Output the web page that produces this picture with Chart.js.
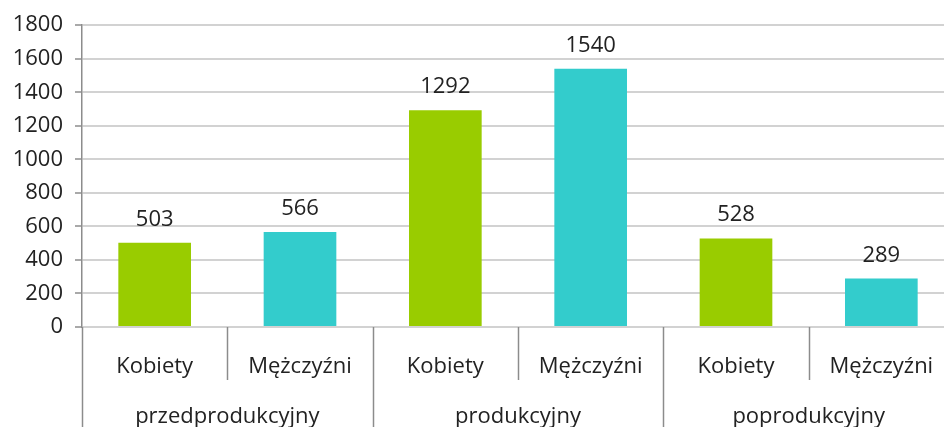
<!DOCTYPE html>
<html>
<head>
<meta charset="utf-8">
<script src="https://cdn.jsdelivr.net/npm/chart.js@4/dist/chart.umd.min.js"></script>
<style>
  html, body { margin: 0; padding: 0; background: #fff; overflow: hidden; }
  /* plot runs past the right edge of the window, as in the original */
  #wrap { width: 954px; height: 427px; }
</style>
</head>
<body>
<div id="wrap"><canvas id="chart"></canvas></div>
<script>
// data
const sexLabels = ['Kobiety', 'Mężczyźni', 'Kobiety', 'Mężczyźni', 'Kobiety', 'Mężczyźni'];
const ageGroups = ['przedprodukcyjny', 'produkcyjny', 'poprodukcyjny'];
const values = [503, 566, 1292, 1540, 528, 289];
const yTicks = [0, 200, 400, 600, 800, 1000, 1200, 1400, 1600, 1800];

const palette = ['#99CC00', '#33CCCC'];
const FONT = '"Open Sans", sans-serif';
const FSIZE = 22;

// value labels above bars
const valueLabels = {
    id: 'valueLabels',
    afterDatasetsDraw(chart) {
        const ctx = chart.ctx;
        const meta = chart.getDatasetMeta(0);
        ctx.save();
        ctx.font = FSIZE + 'px ' + FONT;
        ctx.fillStyle = '#222';
        ctx.textAlign = 'center';
        ctx.textBaseline = 'alphabetic';
        meta.data.forEach((bar, i) => {
            ctx.fillText(String(values[i]), bar.x, bar.y - 17);
        });
        ctx.restore();
    }
};

// two level category axis: dividers + group labels
const groupAxis = {
    id: 'groupAxis',
    afterDraw(chart) {
        const ctx = chart.ctx;
        const area = chart.chartArea;
        const n = sexLabels.length;
        const per = n / ageGroups.length;
        const step = (area.right - area.left) / n;
        ctx.save();
        ctx.strokeStyle = '#8c8c8c';
        ctx.lineWidth = 1.5;
        for (let i = 0; i <= n; i++) {
            const px = Math.round(area.left + i * step) + 0.5;
            const bottom = (i % per === 0) ? chart.height : area.bottom + 53;
            ctx.beginPath();
            ctx.moveTo(px, area.bottom);
            ctx.lineTo(px, bottom);
            ctx.stroke();
        }
        ctx.font = FSIZE + 'px ' + FONT;
        ctx.fillStyle = '#222';
        ctx.textAlign = 'center';
        ctx.textBaseline = 'middle';
        ageGroups.forEach((g, i) => {
            const cx = area.left + (i + 0.5) * per * step;
            ctx.fillText(g, cx, area.bottom + 90);
        });
        ctx.restore();
    }
};

new Chart(document.getElementById('chart'), {
    type: 'bar',
    data: {
        labels: sexLabels,
        datasets: [{
            data: values,
            backgroundColor: (c) => palette[c.dataIndex % 2],
            borderWidth: 0,
            categoryPercentage: 1,
            barPercentage: 0.5
        }]
    },
    options: {
        responsive: true,
        maintainAspectRatio: false,
        animation: false,
        layout: { padding: { top: 23, right: 0, left: 0, bottom: 0 } },
        plugins: {
            legend: { display: false },
            tooltip: { enabled: false }
        },
        scales: {
            x: {
                grid: { display: false },
                border: { display: false },
                ticks: {
                    color: '#222',
                    font: { family: FONT, size: FSIZE },
                    padding: 19,
                    maxRotation: 0,
                    autoSkip: false
                },
                afterFit: (s) => { s.height = 100; }
            },
            y: {
                min: 0,
                max: 1800,
                afterBuildTicks: (s) => { s.ticks = yTicks.map(v => ({ value: v })); },
                grid: {
                    color: '#d2d2d2',
                    lineWidth: 2,
                    tickLength: 7,
                    tickColor: '#8c8c8c',
                    tickWidth: 1.5
                },
                border: { color: '#8c8c8c', width: 1.5 },
                ticks: {
                    color: '#222',
                    font: { family: FONT, size: FSIZE },
                    padding: 12,
                    callback: (v) => String(v)
                },
                afterFit: (s) => { s.width = 82; }
            }
        }
    },
    plugins: [valueLabels, groupAxis]
});
</script>
</body>
</html>
